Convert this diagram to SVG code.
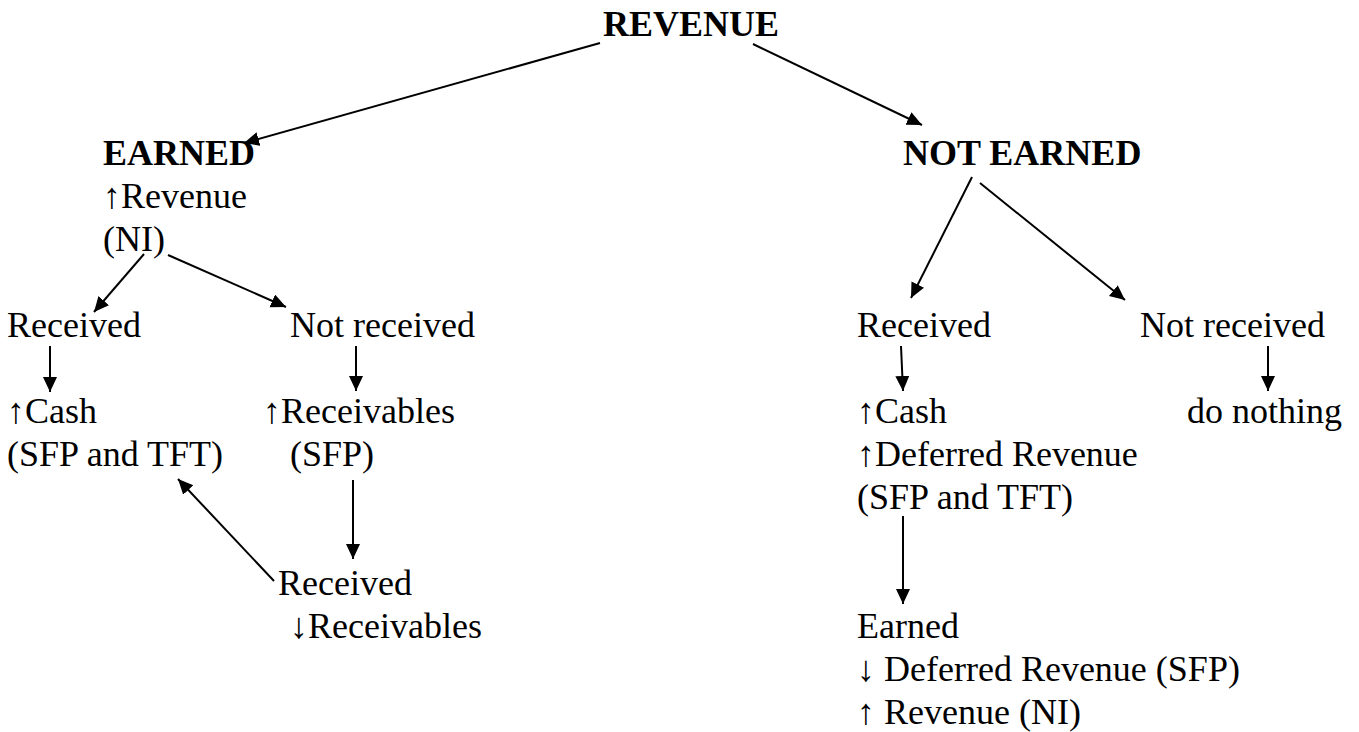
<svg xmlns="http://www.w3.org/2000/svg" width="1359" height="732" viewBox="0 0 1359 732">
<style>
text{font-family:"Liberation Serif","Times New Roman",serif;font-size:36px;fill:#000}
.b{font-weight:bold}
.c line{stroke:#000;stroke-width:2;fill:none;marker-end:url(#ah)}
</style>
<defs>
<marker id="ah" markerUnits="userSpaceOnUse" markerWidth="16" markerHeight="16" refX="15" refY="7" orient="auto">
<path d="M0,0 L15,7 L0,14 z" fill="#000"/>
</marker>
</defs>
<rect width="1359" height="732" fill="#fff"/>
<g id="revenue"><text class="b" x="603" y="36">REVENUE</text></g>
<g id="earned">
<text class="b" x="103" y="165">EARNED</text>
<text x="103" y="208">↑Revenue</text>
<text x="103" y="251">(NI)</text>
</g>
<g id="not-earned"><text class="b" x="903" y="165">NOT EARNED</text></g>
<g id="earned-received"><text x="7" y="337">Received</text></g>
<g id="earned-not-received"><text x="290" y="337">Not received</text></g>
<g id="earned-cash">
<text x="7" y="423">↑Cash</text>
<text x="7" y="466">(SFP and TFT)</text>
</g>
<g id="earned-receivables">
<text x="263" y="423">↑Receivables</text>
<text x="290" y="466">(SFP)</text>
</g>
<g id="receivables-received">
<text x="278" y="595">Received</text>
<text x="290" y="638">↓Receivables</text>
</g>
<g id="notearned-received"><text x="857" y="337">Received</text></g>
<g id="notearned-not-received"><text x="1140" y="337">Not received</text></g>
<g id="notearned-cash">
<text x="857" y="423">↑Cash</text>
<text x="857" y="466">↑Deferred Revenue</text>
<text x="857" y="509">(SFP and TFT)</text>
</g>
<g id="do-nothing"><text x="1187" y="423">do nothing</text></g>
<g id="notearned-earned">
<text x="857" y="638">Earned</text>
<text x="857" y="681">↓ Deferred Revenue (SFP)</text>
<text x="857" y="724">↑ Revenue (NI)</text>
</g>
<g id="connectors" class="c">
<line x1="600" y1="43" x2="244" y2="143"/>
<line x1="753" y1="44" x2="922" y2="125"/>
<line x1="144" y1="254" x2="94" y2="312"/>
<line x1="168" y1="255" x2="286" y2="307"/>
<line x1="972" y1="177" x2="911" y2="298"/>
<line x1="980" y1="183" x2="1125" y2="300"/>
<line x1="50" y1="346" x2="50" y2="392"/>
<line x1="356" y1="346" x2="356" y2="391"/>
<line x1="353" y1="480" x2="353" y2="559"/>
<line x1="274" y1="581" x2="178" y2="479"/>
<line x1="901" y1="346" x2="903" y2="391"/>
<line x1="903" y1="516" x2="903" y2="604"/>
<line x1="1268" y1="346" x2="1268" y2="391"/>
</g>
</svg>
